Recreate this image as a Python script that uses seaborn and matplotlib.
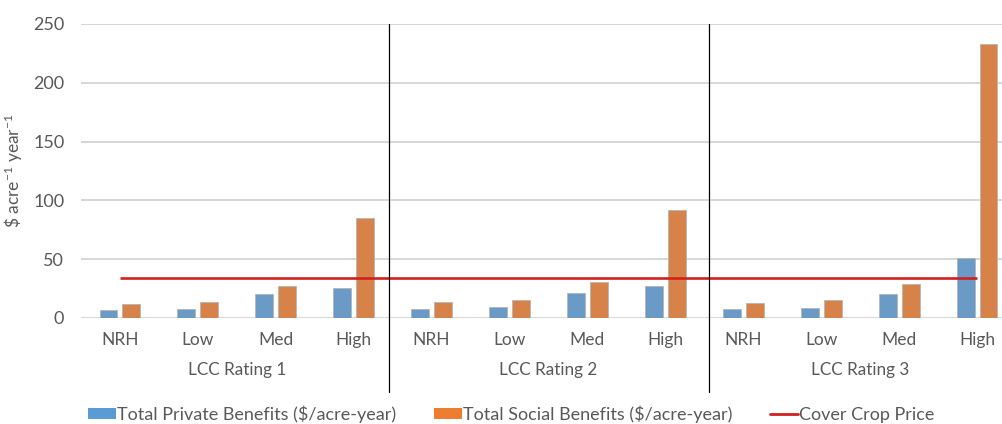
import matplotlib
matplotlib.use("Agg")
import matplotlib.pyplot as plt
import seaborn as sns
import pandas as pd
from matplotlib.patches import Patch
from matplotlib.lines import Line2D

# Benefit estimates per land-capability class and erosion level
ratings = ["LCC Rating 1", "LCC Rating 2", "LCC Rating 3"]
levels = ["NRH", "Low", "Med", "High"]
private_benefits = [7, 8, 20.7, 25.5,
                    8, 9, 21.6, 27.2,
                    7.4, 8.8, 20.2, 50.8]
social_benefits = [12, 13.6, 27.2, 85.4,
                   13.6, 15.6, 30.4, 91.8,
                   12.5, 15.3, 29.2, 233]
cover_crop_price = [34, 34, 34, 34, 34, 34, 34, 34, 34, 34, 34, 34]

series_names = ["Total Private Benefits ($/acre-year)",
                "Total Social Benefits ($/acre-year)"]
price_name = "Cover Crop Price"

BLUE = "#5B9BD5"
ORANGE = "#ED7D31"
RED = "#D2201F"
GREY_TXT = "#595959"

sns.set_theme(style="white")
plt.rcParams["font.family"] = ["Lato", "DejaVu Sans"]
plt.rcParams["mathtext.default"] = "regular"

keys = [f"{r}|{l}" for r in ratings for l in levels]
df = pd.DataFrame({
    "key": keys * 2,
    "value": private_benefits + social_benefits,
    "series": [series_names[0]] * len(keys) + [series_names[1]] * len(keys),
})

fig = plt.figure(figsize=(10.03, 4.24), dpi=100)
ax = fig.add_axes([81 / 1003, 106 / 424, 935 / 1003, 294 / 424])

sns.barplot(data=df, x="key", y="value", hue="series", order=keys,
            hue_order=series_names, palette=[BLUE, ORANGE],
            width=0.59, gap=0.22, edgecolor="#b5b5b5", linewidth=0.6,
            legend=False, ax=ax, zorder=3)

ax.plot(range(len(keys)), cover_crop_price, color=RED, lw=1.9, zorder=4,
        solid_capstyle="butt")

ax.set_xlim(-0.5, len(keys) - 0.5)
ax.set_ylim(0, 250)
ax.set_yticks([0, 50, 100, 150, 200, 250])
ax.yaxis.grid(True, color="#d6d6d6", lw=1.4)
ax.set_axisbelow(True)
for s in ax.spines.values():
    s.set_visible(False)

ax.tick_params(axis="y", length=0, pad=12, labelsize=13, labelcolor=GREY_TXT)
ax.set_xticks(range(len(keys)))
ax.set_xticklabels(levels * len(ratings))
ax.tick_params(axis="x", length=0, pad=10, labelsize=12.5, labelcolor=GREY_TXT)
ax.set_xlabel("")
ax.set_ylabel(r"\$ acre$^{-1}$ year$^{-1}$", fontsize=12.5, color=GREY_TXT,
              labelpad=6)

# group captions beneath the level labels
for i, r in enumerate(ratings):
    ax.text(i * 4 + 1.5, -0.178, r, transform=ax.get_xaxis_transform(),
            ha="center", va="center", fontsize=12.3, color=GREY_TXT)

# dividers between rating groups, running through the axis labels
for xb in (3.45, 7.56):
    ax.axvline(xb, ymin=-0.252, ymax=1, color="black", lw=0.9,
               clip_on=False, zorder=5)

handles = [Patch(facecolor=BLUE, edgecolor="none"),
           Patch(facecolor=ORANGE, edgecolor="none"),
           Line2D([0], [0], color=RED, lw=2)]
fig.legend(handles, series_names + [price_name], loc="center",
           bbox_to_anchor=(511 / 1003, 1 - 414 / 424), ncol=3, frameon=False,
           fontsize=13, labelcolor=GREY_TXT, handlelength=1.55,
           handleheight=0.55, handletextpad=0.05, columnspacing=2.1)

fig.savefig("out.png", dpi=100)
